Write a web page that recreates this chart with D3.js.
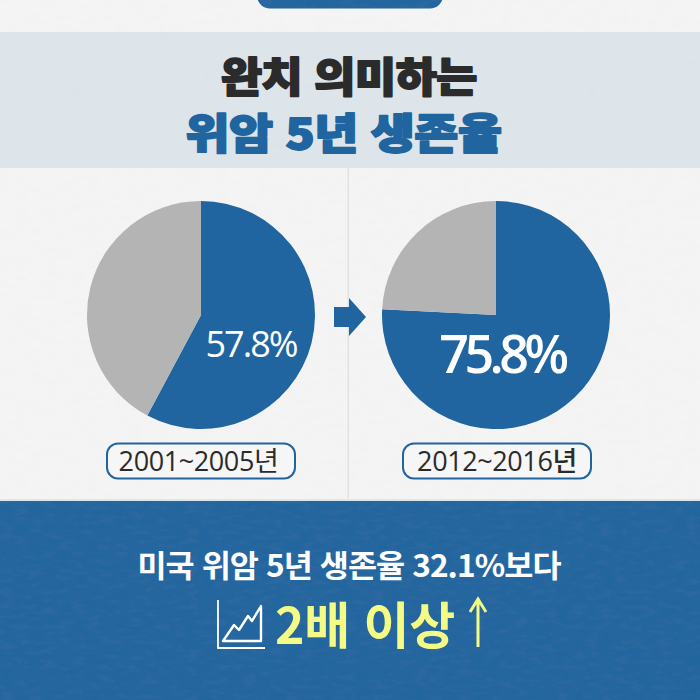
<!DOCTYPE html>
<html lang="ko"><head><meta charset="utf-8">
<script src="https://cdn.jsdelivr.net/npm/d3@7/dist/d3.min.js"></script>
<style>html,body{margin:0;padding:0;background:#f3f3f3}svg{display:block}text{font-family:"Noto Sans CJK KR","Noto Sans",sans-serif}.w{font-family:"Open Sans","Noto Sans CJK KR",sans-serif}</style>
</head><body><svg id="c" width="700" height="700"></svg>
<script>
const periods = ["2001~2005년", "2012~2016년"];
const survival = [57.8, 75.8];
const valueLabels = ["57.8%", "75.8%"];
const titleLines = ["완치 의미하는", "위암 5년 생존율"];
const footerLines = ["미국 위암 5년 생존율 32.1%보다", "2배 이상"];
const blue = "#20659f", grey = "#b4b4b4", ink = "#2b2b2b";

const svg = d3.select("#c");
const defs = svg.append("defs");
const f = defs.append("filter").attr("id","paper").attr("x",0).attr("y",0).attr("width","100%").attr("height","100%");
f.append("feTurbulence").attr("type","fractalNoise").attr("baseFrequency","0.07 0.2").attr("numOctaves",3).attr("seed",4);
f.append("feColorMatrix").attr("values","0 0 0 0 0.5  0 0 0 0 0.5  0 0 0 0 0.5  0.04 0 0 0 -0.01");
f.append("feComposite").attr("in2","SourceGraphic").attr("operator","atop");

const paper = svg.append("g").attr("filter","url(#paper)");
paper.append("rect").attr("width",700).attr("height",700).attr("fill","#f4f4f4");
paper.append("rect").attr("y",32).attr("width",700).attr("height",136).attr("fill","#dde5eb");
paper.append("rect").attr("x",347.5).attr("y",168).attr("width",1.5).attr("height",330).attr("fill","#e2e2e2");
paper.append("rect").attr("y",499).attr("width",700).attr("height",2).attr("fill","#dbe6ee");
paper.append("rect").attr("y",501).attr("width",700).attr("height",199).attr("fill",blue);
paper.append("rect").attr("x",257).attr("y",-20).attr("width",186).attr("height",28.5).attr("rx",13).attr("fill",blue);

const title = svg.append("g").attr("text-anchor","middle").attr("font-weight",900);
title.append("text").attr("transform","translate(349,92) scale(1.09,1)").attr("font-size",41).attr("letter-spacing",-.4)
  .attr("fill",ink).attr("stroke",ink).attr("stroke-width",1.8).attr("stroke-linejoin","round").text(titleLines[0]);
title.append("text").attr("transform","translate(343.5,149) scale(1.14,1)").attr("font-size",42).attr("letter-spacing",-.4)
  .attr("fill",blue).attr("stroke",blue).attr("stroke-width",1.8).attr("stroke-linejoin","round").text(titleLines[1]);

const x = d3.scalePoint().domain(periods).range([201,496]);
const cy = 315, R = 114;
const pie = d3.pie().sort(null).value(d=>d);
const arc = d3.arc().innerRadius(0).outerRadius(R);
const lblFont = [36,52], lblX = [50,6], lblY = [42,58], lblLS=[-2,-4.6];

periods.forEach((p,i)=>{
  const g = svg.append("g").attr("transform",`translate(${x(p)},${cy})`);
  g.selectAll("path").data(pie([survival[i],100-survival[i]])).join("path")
    .attr("d",arc).attr("fill",(d,j)=>j===0?blue:grey);
  g.append("text").attr("class","w").attr("x",lblX[i]).attr("y",lblY[i]).attr("text-anchor","middle")
    .attr("font-size",lblFont[i]).attr("letter-spacing",lblLS[i]).attr("font-weight",i?600:400).attr("fill","#fff").text(valueLabels[i]);
  const w = 188;
  svg.append("rect").attr("x",x(p)-w/2+(i?1:0)).attr("y",443.5).attr("width",w).attr("height",35).attr("rx",11)
    .attr("fill","#f6f6f6").attr("stroke",blue).attr("stroke-width",2);
  svg.append("text").attr("class","w").attr("x",x(p)+(i?1:-2.5)).attr("y",471).attr("text-anchor","middle").attr("font-size",27)
    .attr("letter-spacing",-.4).attr("font-weight",i?500:400).attr("fill",ink).text(p);
});

// arrow between pies
svg.append("path").attr("fill",blue).attr("d",d3.line()([[334,307],[349,307],[349,298],[366,317],[349,336],[349,327],[334,327]])+"Z");

// footer
svg.append("text").attr("transform","translate(349,577) scale(1.02,1)").attr("text-anchor","middle").attr("font-size",31).attr("font-weight",700)
  .attr("letter-spacing",-.9).attr("fill","#fff").text(footerLines[0]);
svg.append("text").attr("x",365).attr("y",644).attr("text-anchor","middle").attr("font-size",50).attr("font-weight",700)
  .attr("letter-spacing",-.3).attr("fill","#f4fb84").text(footerLines[1]);

// icon
const line = d3.line();
svg.append("path").attr("fill","none").attr("stroke","#fff").attr("stroke-width",1.8)
  .attr("d",line([[218,600],[218,648],[265,648]]));
svg.append("path").attr("fill","none").attr("stroke","#fff").attr("stroke-width",2.4).attr("stroke-linejoin","round")
  .attr("d",line([[223,641],[234,625],[239,630],[248,616],[252,621],[261,606],[261,641]])+"Z");

// up arrow
svg.append("path").attr("fill","none").attr("stroke","#f4fb84").attr("stroke-width",3)
  .attr("d",line([[478,647],[478,600]])+"M470,612L478,599L486,612");
</script></body></html>
